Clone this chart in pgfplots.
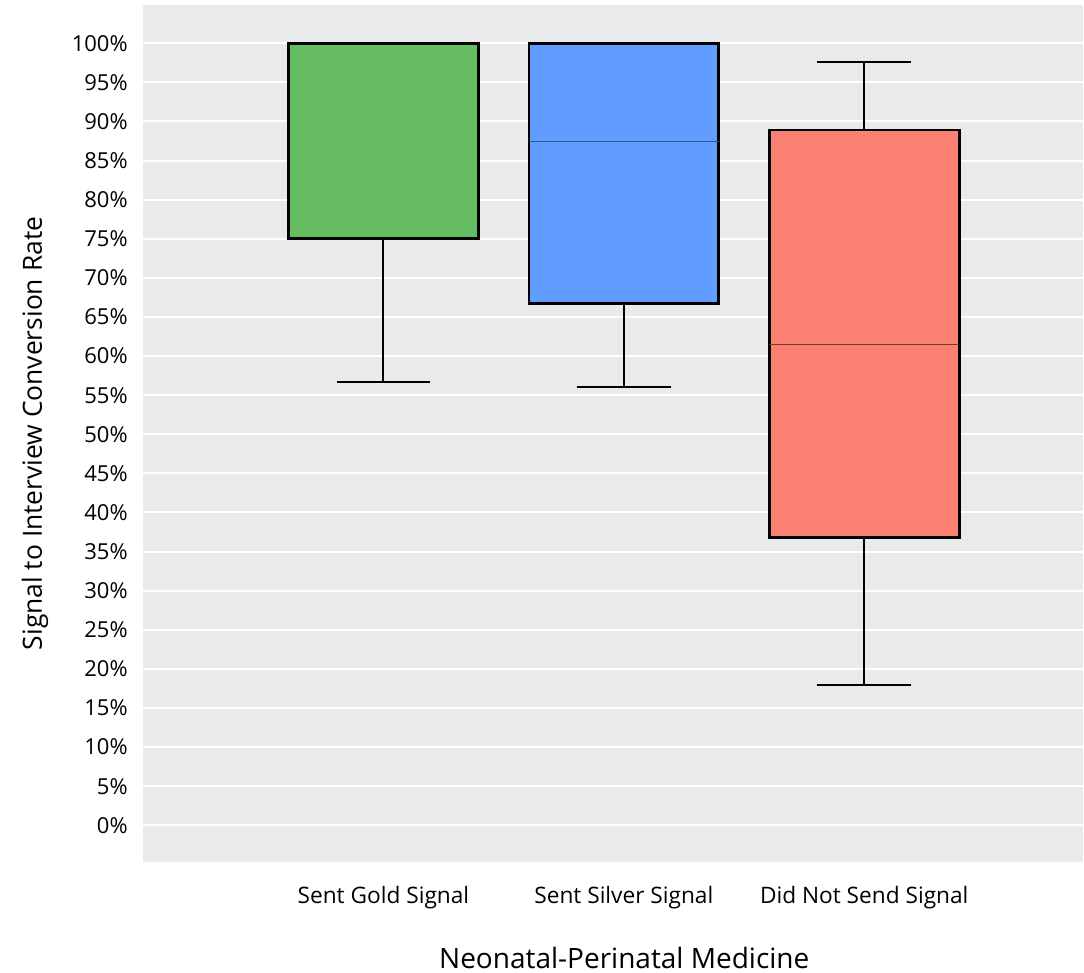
\documentclass[border=0pt]{standalone}
\usepackage{fontspec}
\setmainfont{Open Sans}
\usepackage{pgfplots}
\pgfplotsset{compat=1.18}
\usepgfplotslibrary{statistics}
\definecolor{bggray}{HTML}{E8EAEB}
\definecolor{cgreen}{HTML}{66BC61}
\definecolor{cblue}{HTML}{619CFF}
\definecolor{csalmon}{HTML}{FA8072}
\begin{document}
\begin{tikzpicture}
\begin{axis}[
  scale only axis,
  width=705pt, height=642.75pt,
  xmin=0, xmax=3.91, ymin=-4.7, ymax=104.9,
  axis background/.style={fill=bggray},
  axis line style={draw=none},
  major tick length=0pt,
  ymajorgrids,
  grid style={white, line width=1.5pt},
  xtick={1,2,3},
  xticklabels={Sent Gold Signal, Sent Silver Signal, Did Not Send Signal},
  ytick={0,5,...,100},
  yticklabel={\pgfmathprintnumber{\tick}\%},
  /pgf/number format/assume math mode=true,
  tick label style={font=\fontsize{16.5}{20}\selectfont},
  yticklabel style={anchor=east, xshift=-8pt},
  xticklabel style={anchor=base, yshift=-31pt, font=\fontsize{17}{20}\selectfont},
  xlabel={Neonatal-Perinatal Medicine},
  ylabel={Signal to Interview Conversion Rate},
  xlabel style={font=\fontsize{21}{25}\selectfont, at={(axis description cs:0.512,0)}, anchor=base, yshift=-79.5pt},
  ylabel style={font=\fontsize{19.8}{24}\selectfont, at={(axis description cs:-0.10745,0.5)}, anchor=base},
  boxplot/draw direction=y,
]
\addplot[boxplot prepared={draw position=1, lower whisker=56.7, lower quartile=75, median=100, upper quartile=100, upper whisker=100, box extend=0.79, whisker extend=0.39},
  draw=black, line width=2pt, fill=cgreen,
  boxplot/every whisker/.style={line width=1.5pt},
  boxplot/every median/.style={line width=0.75pt, draw=black}] coordinates {};
\addplot[boxplot prepared={draw position=2, lower whisker=56.0, lower quartile=66.7, median=87.5, upper quartile=100, upper whisker=100, box extend=0.79, whisker extend=0.39},
  draw=black, line width=2pt, fill=cblue,
  boxplot/every whisker/.style={line width=1.5pt},
  boxplot/every median/.style={line width=0.75pt, draw=cblue!55!black}] coordinates {};
\addplot[boxplot prepared={draw position=3, lower whisker=17.9, lower quartile=36.8, median=61.5, upper quartile=88.9, upper whisker=97.6, box extend=0.79, whisker extend=0.39},
  draw=black, line width=2pt, fill=csalmon,
  boxplot/every whisker/.style={line width=1.5pt},
  boxplot/every median/.style={line width=0.75pt, draw=csalmon!45!black}] coordinates {};
\end{axis}
\pgfresetboundingbox
\path (-107.25pt,-83.25pt) rectangle (705.75pt,646.5pt);
\end{tikzpicture}
\end{document}
